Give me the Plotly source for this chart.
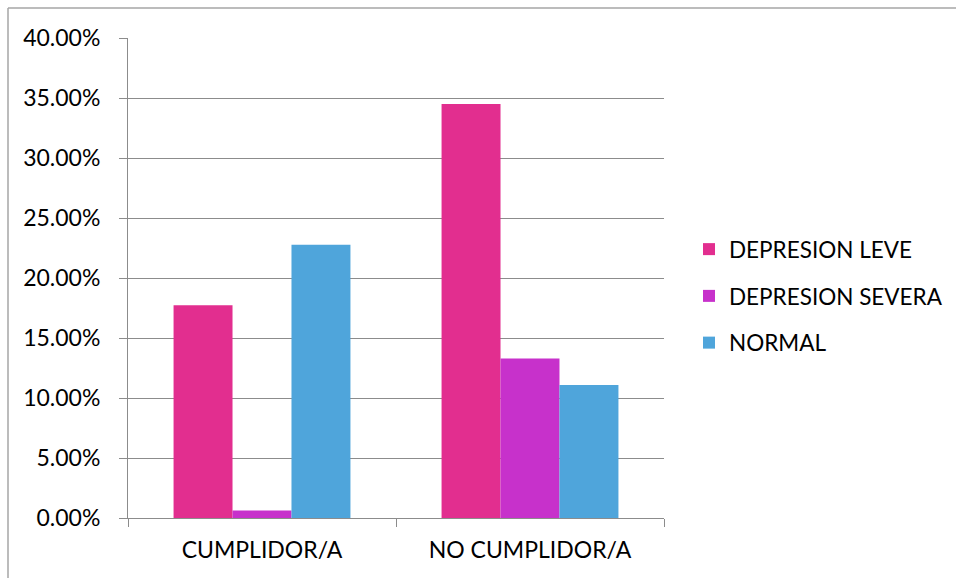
import plotly.graph_objects as go

# Share of patients by adherence group and depression category (%)
categories = ["CUMPLIDOR/A", "NO CUMPLIDOR/A"]
series_names = ["DEPRESION LEVE", "DEPRESION SEVERA", "NORMAL"]
depresion_leve = [17.72, 34.49]
depresion_severa = [0.63, 13.29]
normal = [22.78, 11.08]
y_ticks = [0, 5, 10, 15, 20, 25, 30, 35, 40]
y_tick_labels = [f"{v:.2f}%" for v in y_ticks]

colors = ["#E22E8F", "#C731CB", "#4FA5DB"]
values = [depresion_leve, depresion_severa, normal]

FONT = "Lato, Open Sans, sans-serif"
GRID = "#8c8c8c"

fig = go.Figure()
for i, (name, vals) in enumerate(zip(series_names, values)):
    fig.add_trace(go.Bar(
        x=categories, y=vals, name=name,
        marker=dict(color=colors[i], line=dict(width=0)),
        legendgroup=name,
    ))

# plot area spans pixels x 128..664, y 38..518 of a 956x578 page
L, R, T, B = 128, 664, 38, 518
W, H = 956, 578
pw, ph = R - L, B - T


def px_x(p):
    return (p - L) / pw


def px_y(p):
    return (B - p) / ph


fig.update_layout(
    width=W, height=H,
    margin=dict(l=L, r=W - R, t=T, b=H - B, pad=0, autoexpand=False),
    paper_bgcolor="white", plot_bgcolor="white",
    barmode="group", bargap=0.34, bargroupgap=0,
    font=dict(family=FONT, color="#000000"),
    legend=dict(
        x=px_x(689), y=px_y(228), xanchor="left", yanchor="top",
        font=dict(size=22.5, family=FONT, color="#000000"),
        traceorder="grouped", tracegroupgap=14.5,
        bgcolor="rgba(0,0,0,0)", itemclick=False,
    ),
    showlegend=True,
    xaxis=dict(
        showgrid=False, showline=True, linecolor=GRID, linewidth=1,
        ticks="outside", ticklen=8, tickcolor=GRID, tickson="boundaries",
        tickfont=dict(size=23, family=FONT, color="#000000"),
        ticklabelstandoff=11,
    ),
    yaxis=dict(
        range=[0, 40], tickvals=y_ticks, ticktext=y_tick_labels,
        showgrid=True, gridcolor=GRID, gridwidth=1,
        showline=True, linecolor=GRID, linewidth=1,
        ticks="outside", ticklen=8, tickcolor=GRID,
        tickfont=dict(size=23, family=FONT, color="#000000"),
        ticklabelstandoff=14, zeroline=False,
    ),
    shapes=[
        # chart border (top and left edges visible)
        dict(type="line", xref="paper", yref="paper",
             x0=px_x(8), x1=px_x(W + 5), y0=px_y(8), y1=px_y(8),
             line=dict(color="#a6a6a6", width=1.5)),
        dict(type="line", xref="paper", yref="paper",
             x0=px_x(8), x1=px_x(8), y0=px_y(8), y1=px_y(H + 5),
             line=dict(color="#a6a6a6", width=1.5)),
    ],
)

fig.write_html("out.html")
